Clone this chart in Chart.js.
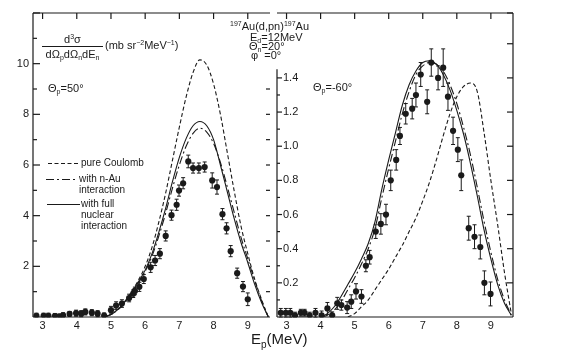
<!DOCTYPE html>
<html>
<head>
<meta charset="utf-8">
<script src="https://cdn.jsdelivr.net/npm/chart.js@4/dist/chart.umd.min.js"></script>
<style>
  body { margin: 0; background: #fff; }
  #wrap { position: relative; width: 568px; height: 354px; overflow: hidden;
          font-family: "Liberation Sans", "DejaVu Sans", sans-serif; color: #1a1a1a; }
  canvas { position: absolute; top: 0; }
  .t { position: absolute; white-space: nowrap; font-size: 11px; line-height: 1; }
  .s { font-size: 7px; position: relative; top: 2px; }
  .u { font-size: 7px; position: relative; top: -4px; }
</style>
</head>
<body>
<div id="wrap">
  <canvas id="left" width="274" height="354" style="left:0"></canvas>
  <canvas id="right" width="295" height="354" style="left:273px"></canvas>

  <!-- y label (fraction) -->
  <div class="t" style="left:42px;top:34px;width:61px;text-align:center">d<span class="u">3</span>σ</div>
  <div style="position:absolute;left:42px;top:46px;width:61px;border-top:1px solid #1a1a1a"></div>
  <div class="t" style="left:40px;top:49px;width:65px;text-align:center">dΩ<span class="s">p</span>dΩ<span class="s">n</span>dE<span class="s">n</span></div>
  <div class="t" style="left:105px;top:40px">(mb sr<span class="u">−2</span>MeV<span class="u">−1</span>)</div>

  <div class="t" style="left:48px;top:83px">Θ<span class="s">p</span>=50°</div>
  <div class="t" style="left:313px;top:82px">Θ<span class="s">p</span>=-60°</div>

  <div class="t" style="left:230px;top:21px"><span class="u">197</span>Au(d,pn)<span class="u">197</span>Au</div>
  <div class="t" style="left:250px;top:32px">E<span class="s">d</span>=12MeV</div>
  <div class="t" style="left:249px;top:41px">Θ<span class="s">n</span>=20°</div>
  <div class="t" style="left:251px;top:50px">φ&nbsp;&nbsp;=0°</div>

  <!-- legend -->
  <svg style="position:absolute;left:0;top:0" width="568" height="354">
    <line x1="48" y1="163.5" x2="78" y2="163.5" stroke="#1a1a1a" stroke-width="1.1" stroke-dasharray="4,2.5"/>
    <line x1="46" y1="179.5" x2="77" y2="179.5" stroke="#1a1a1a" stroke-width="1.1" stroke-dasharray="8,3,2,3"/>
    <line x1="47" y1="204.5" x2="80" y2="204.5" stroke="#1a1a1a" stroke-width="1.1"/>
  </svg>
  <div class="t" style="left:81px;top:158px;font-size:10px">pure Coulomb</div>
  <div class="t" style="left:79px;top:174px;font-size:10px">with n-Au</div>
  <div class="t" style="left:79px;top:185px;font-size:10px">interaction</div>
  <div class="t" style="left:81px;top:199px;font-size:10px">with full</div>
  <div class="t" style="left:81px;top:210px;font-size:10px">nuclear</div>
  <div class="t" style="left:81px;top:221px;font-size:10px">interaction</div>

  <div class="t" style="left:251px;top:331px;font-size:15px">E<span style="font-size:10px;position:relative;top:4px">p</span>(MeV)</div>
</div>

<script>
const ink = '#1a1a1a';

// theta_p = 50 deg panel (mb sr^-2 MeV^-1)
const expE50 = [2.82, 3.03, 3.17, 3.36, 3.49, 3.6, 3.79, 3.98, 4.13, 4.25,
  4.44, 4.61, 4.8, 5.0, 5.15, 5.32, 5.53, 5.65, 5.7, 5.83,
  5.96, 6.16, 6.29, 6.43, 6.6, 6.77, 6.92, 6.99, 7.11, 7.26,
  7.4, 7.57, 7.74, 7.96, 8.1, 8.26, 8.38, 8.5, 8.69, 8.86, 9.0];
const expY50 = [0.05, 0.05, 0.05, 0.04, 0.02, 0.07, 0.12, 0.15, 0.13, 0.2,
  0.17, 0.13, 0.06, 0.27, 0.45, 0.53, 0.75, 0.92, 1.03, 1.19,
  1.5, 1.96, 2.23, 2.5, 3.2, 4.02, 4.43, 4.99, 5.28, 6.14,
  5.88, 5.88, 5.92, 5.39, 5.13, 4.06, 3.5, 2.6, 1.73, 1.2, 0.7];
const expErr50 = [0.1, 0.1, 0.1, 0.1, 0.1, 0.1, 0.1, 0.12, 0.12, 0.12,
  0.12, 0.12, 0.1, 0.15, 0.15, 0.15, 0.15, 0.15, 0.15, 0.18,
  0.18, 0.2, 0.2, 0.2, 0.2, 0.2, 0.22, 0.22, 0.22, 0.25,
  0.2, 0.2, 0.2, 0.3, 0.28, 0.22, 0.22, 0.22, 0.2, 0.2, 0.25];

// theory curves, energies 4.8 .. 9.6
const gridA = [4.8, 5.0, 5.2, 5.4, 5.6, 5.8, 6.0, 6.2, 6.4, 6.6,
  6.8, 7.0, 7.2, 7.4, 7.6, 7.8, 8.0, 8.2, 8.4, 8.6,
  8.8, 9.0, 9.2, 9.4, 9.6];
const coulomb50 = [0, 0.1, 0.3, 0.6, 1.0, 1.45, 2.0, 2.75, 3.75, 4.9,
  6.2, 7.5, 8.7, 9.65, 10.15, 9.95, 9.2, 8.0, 6.5, 5.0,
  3.6, 2.5, 1.5, 0.7, 0];
const nAu50 = [0, 0.1, 0.28, 0.55, 0.9, 1.33, 1.8, 2.4, 3.2, 4.1,
  5.1, 6.0, 6.75, 7.25, 7.45, 7.3, 6.85, 6.1, 5.15, 4.15,
  3.15, 2.3, 1.45, 0.65, 0];
const full50 = [0, 0.1, 0.3, 0.6, 0.95, 1.38, 1.85, 2.5, 3.35, 4.3,
  5.35, 6.3, 7.05, 7.55, 7.72, 7.55, 7.0, 6.0, 4.95, 3.9,
  2.95, 2.15, 1.3, 0.58, 0];

// theta_p = -60 deg panel
const expE60 = [2.83, 2.98, 3.11, 3.25, 3.42, 3.53, 3.68, 3.85, 4.03, 4.2,
  4.34, 4.49, 4.61, 4.78, 4.9, 5.04, 5.2, 5.33, 5.44, 5.62,
  5.77, 5.92, 6.06, 6.22, 6.33, 6.5, 6.69, 6.8, 6.94, 7.13,
  7.25, 7.45, 7.6, 7.74, 7.89, 8.03, 8.13, 8.35, 8.52, 8.69,
  8.81, 8.99];
const expY60 = [0.025, 0.025, 0.025, 0.008, 0.025, 0.025, 0.008, 0.025, 0.01, 0.05,
  0.01, 0.08, 0.07, 0.055, 0.09, 0.15, 0.12, 0.3, 0.35, 0.5,
  0.545, 0.6, 0.8, 0.92, 1.06, 1.19, 1.22, 1.3, 1.42, 1.26,
  1.49, 1.4, 1.46, 1.29, 1.09, 0.98, 0.83, 0.52, 0.47, 0.41,
  0.2, 0.135];
const expErr60 = [0.025, 0.025, 0.025, 0.02, 0.02, 0.02, 0.02, 0.025, 0.025, 0.035,
  0.02, 0.035, 0.03, 0.035, 0.04, 0.045, 0.04, 0.035, 0.04, 0.04,
  0.06, 0.06, 0.06, 0.06, 0.05, 0.06, 0.06, 0.07, 0.07, 0.07,
  0.08, 0.07, 0.11, 0.08, 0.08, 0.07, 0.09, 0.07, 0.07, 0.07,
  0.07, 0.07];

// energies 4.0 .. 9.6
const gridB = [4.0, 4.2, 4.4, 4.6, 4.8, 5.0, 5.2, 5.4, 5.6, 5.8,
  6.0, 6.2, 6.4, 6.6, 6.8, 7.0, 7.2, 7.4, 7.6, 7.8,
  8.0, 8.2, 8.4, 8.6, 8.8, 9.0, 9.2, 9.4, 9.6];
const coulomb60 = [0, 0.02, 0.06, 0.1, 0.16, 0.22, 0.28, 0.35, 0.42, 0.5,
  0.58, 0.68, 0.79, 0.92, 1.06, 1.19, 1.29, 1.35, 1.37, 1.32,
  1.08, 0.8, 0.54, 0.26, 0.02];
const nAu60 = [0, 0.01, 0.04, 0.09, 0.16, 0.23, 0.31, 0.4, 0.52, 0.7,
  0.87, 1.03, 1.19, 1.32, 1.42, 1.47, 1.49, 1.48, 1.44, 1.36,
  1.25, 1.11, 0.95, 0.76, 0.56, 0.38, 0.22, 0.1, 0.01];
const full60 = [0, 0.02, 0.06, 0.12, 0.19, 0.26, 0.34, 0.43, 0.56, 0.75,
  0.92, 1.08, 1.24, 1.36, 1.44, 1.49, 1.5, 1.48, 1.42, 1.33,
  1.21, 1.07, 0.9, 0.71, 0.51, 0.34, 0.19, 0.08, 0.01];

const xTicks = [3, 4, 5, 6, 7, 8, 9];

function pts(xs, ys) {
  return xs.map((x, i) => ({ x: x, y: ys[i] }));
}

function curve(xs, ys, dash) {
  return {
    data: pts(xs, ys), showLine: true, borderColor: ink, borderWidth: 1.1,
    borderDash: dash, pointRadius: 0, cubicInterpolationMode: 'monotone', fill: false
  };
}

function dots(xs, ys) {
  return { data: pts(xs, ys), pointRadius: 3.1, pointBackgroundColor: ink, pointBorderWidth: 0, showLine: false };
}

function errorBars(xs, ys, errs) {
  return {
    id: 'errorBars',
    beforeDatasetsDraw(chart) {
      const { ctx, scales: { x, y } } = chart;
      ctx.save();
      ctx.strokeStyle = ink;
      ctx.lineWidth = 1;
      xs.forEach((e, i) => {
        const px = x.getPixelForValue(e);
        const top = y.getPixelForValue(ys[i] + errs[i]);
        const bot = y.getPixelForValue(Math.max(ys[i] - errs[i], 0));
        ctx.beginPath();
        ctx.moveTo(px, top); ctx.lineTo(px, bot);
        ctx.moveTo(px - 2, top); ctx.lineTo(px + 2, top);
        ctx.moveTo(px - 2, bot); ctx.lineTo(px + 2, bot);
        ctx.stroke();
      });
      ctx.restore();
    }
  };
}

const frame = {
  id: 'frame',
  afterDraw(chart, args, o) {
    const { ctx, chartArea: a, scales: { x, y } } = chart;
    ctx.save();
    ctx.strokeStyle = ink;
    ctx.lineWidth = 1.2;
    const line = (x1, y1, x2, y2) => { ctx.beginPath(); ctx.moveTo(x1, y1); ctx.lineTo(x2, y2); ctx.stroke(); };
    line(a.left, a.top, a.right, a.top);
    line(a.left, a.bottom, a.right, a.bottom);
    xTicks.forEach(v => { const px = x.getPixelForValue(v); line(px, a.top, px, a.top + 6); });
    if (o.side === 'left') {
      line(a.left, a.top, a.left, a.bottom);
      y.ticks.forEach(t => {
        const py = y.getPixelForValue(t.value);
        if (t.value === 0) return;
        line(a.left, py, a.left + (t.value % 2 === 0 ? 7 : 4), py);
        if (t.value <= 9) line(a.right, py, a.right - 4, py);
      });
    } else {
      line(a.left, y.getPixelForValue(o.axisTop), a.left, a.bottom);
      line(a.right, a.top, a.right, a.bottom);
      y.ticks.forEach(t => {
        const k = Math.round(t.value * 10);
        if (k === 0) return;
        const py = y.getPixelForValue(t.value);
        if (k % 2 === 0) {
          line(a.right, py, a.right - 6, py);
          if (k <= 14) line(a.left, py, a.left + 5, py);
        } else if (k <= 13) {
          line(a.left, py, a.left + 3, py);
        }
      });
    }
    ctx.restore();
  }
};

const tickFont = { family: '"Liberation Sans", "DejaVu Sans", sans-serif', size: 11 };

function xScale() {
  return {
    type: 'linear', min: 2.72, max: 9.65,
    grid: { display: false, drawTicks: false }, border: { display: false },
    afterFit: s => { s.height = 37; },
    ticks: {
      stepSize: 1, includeBounds: false, padding: 2, color: ink, font: tickFont, maxRotation: 0,
      callback: v => xTicks.includes(v) ? String(v) : ''
    }
  };
}

new Chart(document.getElementById('left'), {
  type: 'scatter',
  data: {
    datasets: [
      curve(gridA, coulomb50, [4, 2.5]),
      curve(gridA, nAu50, [8, 3, 2, 3]),
      curve(gridA, full50, []),
      dots(expE50, expY50)
    ]
  },
  options: {
    responsive: false, animation: false, devicePixelRatio: 1,
    layout: { padding: { left: 0, right: 1, top: 13, bottom: 0 } },
    plugins: { legend: { display: false }, tooltip: { enabled: false }, frame: { side: 'left' } },
    scales: {
      x: xScale(),
      y: {
        type: 'linear', min: 0, max: 12,
        grid: { display: false, drawTicks: false }, border: { display: false },
        afterFit: s => { s.width = 33; },
        ticks: {
          stepSize: 1, autoSkip: false, padding: 4, color: ink, font: tickFont,
          callback: v => (v > 0 && v <= 10 && v % 2 === 0) ? String(v) : ''
        }
      }
    }
  },
  plugins: [errorBars(expE50, expY50, expErr50), frame]
});

new Chart(document.getElementById('right'), {
  type: 'scatter',
  data: {
    datasets: [
      curve(gridA, coulomb60, [4, 2.5]),
      curve(gridB, nAu60, [8, 3, 2, 3]),
      curve(gridB, full60, []),
      dots(expE60, expY60)
    ]
  },
  options: {
    responsive: false, animation: false, devicePixelRatio: 1,
    layout: { padding: { left: 0, right: 55, top: 13, bottom: 0 } },
    plugins: { legend: { display: false }, tooltip: { enabled: false }, frame: { side: 'right', axisTop: 1.45 } },
    scales: {
      x: xScale(),
      y: {
        type: 'linear', min: 0, max: 1.78,
        grid: { display: false, drawTicks: false }, border: { display: false },
        afterFit: s => { s.width = 1; },
        ticks: {
          stepSize: 0.1, autoSkip: false, mirror: true, padding: 6, color: ink, font: tickFont,
          callback: v => {
            const k = Math.round(v * 10);
            return (k > 0 && k <= 14 && k % 2 === 0) ? (k / 10).toFixed(1) : '';
          }
        }
      }
    }
  },
  plugins: [errorBars(expE60, expY60, expErr60), frame]
});
</script>
</body>
</html>
